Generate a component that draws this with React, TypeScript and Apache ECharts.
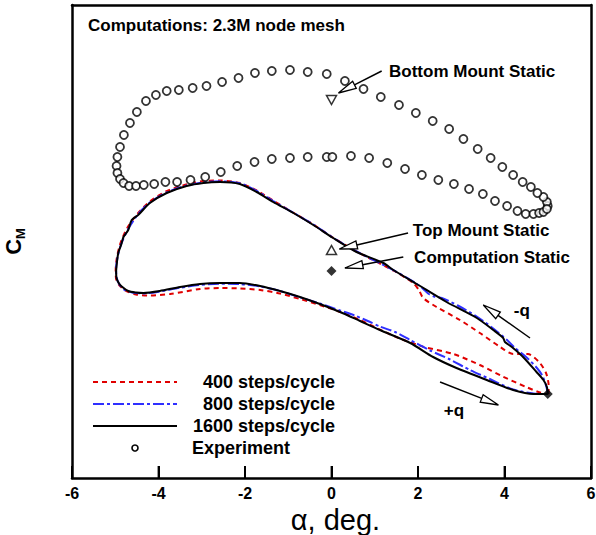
import React, { useEffect, useRef } from "react";
import * as echarts from "echarts";

// Pitching moment hysteresis loops: alpha (deg) vs C_M
const steps400: [number, number][] = [
  [5.02, -0.144], [5.02, -0.135], [4.96, -0.123], [4.8, -0.112], [4.54, -0.104], [4.2, -0.104],
  [3.9, -0.097], [3.43, -0.083], [2.97, -0.07], [2.43, -0.057], [2.12, -0.048], [2.02, -0.04],
  [1.89, -0.033], [1.43, -0.0205], [0.58, -0.0015], [0.03, 0.0125], [-0.43, 0.0257], [-0.89, 0.0375],
  [-1.35, 0.0495], [-1.73, 0.0595], [-2.12, 0.067], [-2.58, 0.0695], [-2.97, 0.069], [-3.36, 0.0655],
  [-3.83, 0.0585], [-4.2, 0.0485], [-4.47, 0.037], [-4.71, 0.023], [-4.87, 0.008], [-4.96, -0.007],
  [-4.99, -0.02], [-4.98, -0.029], [-4.91, -0.035], [-4.75, -0.041], [-4.52, -0.0445], [-4.2, -0.0455],
  [-3.73, -0.044], [-3.04, -0.039], [-2.58, -0.038], [-2.12, -0.0385], [-1.65, -0.04], [-1.19, -0.0435],
  [-0.73, -0.049], [-0.27, -0.055], [0.2, -0.062], [0.66, -0.07], [1.24, -0.082], [1.58, -0.0885],
  [2.12, -0.0967], [2.82, -0.104], [3.43, -0.115], [3.97, -0.1267], [4.5, -0.137], [4.82, -0.1425],
  [5.02, -0.144],
];

const steps800: [number, number][] = [
  [5.0, -0.144], [4.97, -0.137], [4.88, -0.126], [4.75, -0.118], [4.5, -0.107], [4.24, -0.098],
  [4.06, -0.09], [3.71, -0.0775], [3.34, -0.066], [2.92, -0.0555], [2.55, -0.048], [2.37, -0.0465],
  [2.25, -0.044], [2.16, -0.0405], [1.98, -0.034], [1.42, -0.0198], [0.58, -0.0015], [0.04, 0.0122],
  [-0.42, 0.0255], [-0.88, 0.0372], [-1.35, 0.049], [-1.73, 0.059], [-2.12, 0.0668], [-2.58, 0.0687],
  [-2.96, 0.0677], [-3.35, 0.0645], [-3.81, 0.0575], [-4.2, 0.0475], [-4.47, 0.036], [-4.7, 0.021],
  [-4.85, 0.0075], [-4.94, -0.006], [-4.98, -0.018], [-4.97, -0.027], [-4.91, -0.034], [-4.8, -0.0395],
  [-4.61, -0.0425], [-4.35, -0.0435], [-3.97, -0.0415], [-3.5, -0.0377], [-3.04, -0.035], [-2.58, -0.0337],
  [-2.12, -0.034], [-1.65, -0.0365], [-1.19, -0.041], [-0.73, -0.0473], [-0.27, -0.0535], [0.2, -0.0605],
  [0.54, -0.0655], [0.84, -0.071], [1.12, -0.0765], [1.47, -0.082], [1.82, -0.09], [2.28, -0.1005],
  [2.74, -0.1095], [3.2, -0.12], [3.66, -0.129], [4.2, -0.1395], [4.67, -0.1435], [5.0, -0.144],
];

const steps1600: [number, number][] = [
  [5.0, -0.144], [4.98, -0.137], [4.9, -0.13], [4.74, -0.122], [4.43, -0.107], [4.17, -0.097],
  [4.01, -0.092], [3.97, -0.088], [3.74, -0.08], [3.36, -0.068], [2.66, -0.052], [1.97, -0.034],
  [1.43, -0.02], [1.2, -0.013], [0.58, -0.002], [0.04, 0.012], [-0.42, 0.025], [-0.88, 0.037],
  [-1.35, 0.048], [-1.73, 0.058], [-2.12, 0.066], [-2.58, 0.068], [-2.96, 0.067], [-3.35, 0.064],
  [-3.81, 0.057], [-4.2, 0.047], [-4.47, 0.035], [-4.62, 0.03], [-4.7, 0.02], [-4.81, 0.013],
  [-4.85, 0.007], [-4.93, -0.003], [-4.96, -0.012], [-4.98, -0.022], [-4.97, -0.028], [-4.92, -0.033],
  [-4.85, -0.0365], [-4.7, -0.041], [-4.52, -0.0425], [-4.35, -0.043], [-3.97, -0.041], [-3.5, -0.037],
  [-3.04, -0.034], [-2.58, -0.033], [-2.12, -0.033], [-1.65, -0.036], [-1.19, -0.041], [-0.73, -0.047],
  [-0.27, -0.054], [0.2, -0.062], [0.66, -0.071], [1.12, -0.08], [1.82, -0.093], [2.35, -0.107],
  [2.89, -0.118], [3.59, -0.13], [4.2, -0.14], [4.67, -0.144], [5.0, -0.144],
];

const experiment: [number, number][] = [
  [5.0, 0.044], [4.98, 0.048], [4.9, 0.053], [4.76, 0.057], [4.61, 0.063], [4.42, 0.068], [4.2, 0.075],
  [3.95, 0.083], [3.68, 0.092], [3.38, 0.101], [3.05, 0.111], [2.72, 0.121], [2.34, 0.129], [1.95, 0.137],
  [1.56, 0.145], [1.14, 0.153], [0.74, 0.161], [0.31, 0.169], [-0.11, 0.176], [-0.55, 0.178],
  [-0.96, 0.18], [-1.38, 0.179], [-1.77, 0.177], [-2.15, 0.172], [-2.53, 0.168], [-2.89, 0.164],
  [-3.21, 0.162], [-3.53, 0.16], [-3.81, 0.159], [-4.06, 0.155], [-4.29, 0.149], [-4.5, 0.138],
  [-4.66, 0.127], [-4.8, 0.115], [-4.89, 0.103], [-4.95, 0.093], [-4.97, 0.084], [-4.95, 0.077],
  [-4.89, 0.071], [-4.81, 0.067], [-4.68, 0.064], [-4.52, 0.064], [-4.34, 0.065], [-4.1, 0.066],
  [-3.84, 0.068], [-3.57, 0.068], [-3.26, 0.07], [-2.92, 0.073], [-2.56, 0.078], [-2.18, 0.084],
  [-1.78, 0.088], [-1.38, 0.091], [-0.96, 0.092], [-0.55, 0.093], [-0.11, 0.093], [0.02, 0.093],
  [0.45, 0.094], [0.87, 0.092], [1.29, 0.087], [1.7, 0.081], [2.09, 0.075], [2.47, 0.07], [2.83, 0.066],
  [3.18, 0.061], [3.5, 0.056], [3.78, 0.049], [4.06, 0.044], [4.3, 0.039], [4.49, 0.036], [4.67, 0.036],
  [4.8, 0.037], [4.9, 0.038], [4.98, 0.041],
];

const bottomMountStatic: [number, number][] = [[0, 0.15]];
const topMountStatic: [number, number][] = [[0, 0.0]];
const computationStatic: [number, number][] = [[0, -0.021], [5.0, -0.144]];

// Annotation arrows: [fromAlpha, fromCm, toAlpha, toCm]
const arrows: [number, number, number, number][] = [
  [1.16, 0.179, 0.16, 0.157],
  [1.77, 0.017, 0.18, 0.001],
  [1.66, -0.007, 0.31, -0.018],
  [4.59, -0.088, 3.51, -0.055],
  [2.51, -0.132, 3.86, -0.155],
];

// Annotation texts: [alpha, cm, text, anchor]
const notes: [number, number, string, string][] = [
  [1.33, 0.179, "Bottom Mount Static", "left"],
  [1.88, 0.02, "Top Mount Static", "left"],
  [1.91, -0.007, "Computation Static", "left"],
  [4.4, -0.06, "-q", "center"],
  [2.83, -0.16, "+q", "center"],
];

const xTicks = { min: -6, max: 6, interval: 2 };
const innerTickValues = [-4, -2, 0, 2, 4];
const cmRange = { min: -0.228, max: 0.245 };

const legendRows = [
  { name: "400 steps/cycle", kind: "line", color: "#e00000", dash: [5, 4] as number[] | null },
  { name: "800 steps/cycle", kind: "line", color: "#2f2fff", dash: [11, 3, 3, 3] as number[] | null },
  { name: "1600 steps/cycle", kind: "line", color: "#000000", dash: null },
  { name: "Experiment", kind: "circle", color: "#000000", dash: null },
];

const FONT = "'Liberation Sans', Arial, Helvetica, sans-serif";
const FRAME = { color: "#000", width: 2.5 };

export default function App() {
  const ref = useRef<HTMLDivElement>(null);

  useEffect(() => {
    document.body.style.margin = "0";
    if (!ref.current) return;
    const chart = echarts.init(ref.current, undefined, { renderer: "svg" });

    const legendX0 = 93;
    const legendX1 = 177;
    const legendY0 = 382;
    const legendDy = 22;
    const legendGraphics: any[] = [];
    legendRows.forEach((row, i) => {
      const y = legendY0 + i * legendDy;
      if (row.kind === "line") {
        legendGraphics.push({
          type: "line",
          shape: { x1: legendX0, y1: y, x2: legendX1, y2: y },
          style: { stroke: row.color, lineWidth: 2, lineDash: row.dash || undefined },
        });
        legendGraphics.push({
          type: "text",
          x: 335,
          y,
          style: {
            text: row.name, fill: "#000", font: `bold 18px ${FONT}`,
            textAlign: "right", textVerticalAlign: "middle", align: "right", verticalAlign: "middle",
          },
        });
      } else {
        legendGraphics.push({
          type: "circle",
          shape: { cx: (legendX0 + legendX1) / 2, cy: y, r: 3 },
          style: { fill: "#fff", stroke: "#000", lineWidth: 1.6 },
        });
        legendGraphics.push({
          type: "text",
          x: 192,
          y,
          style: {
            text: row.name, fill: "#000", font: `bold 18px ${FONT}`,
            textAlign: "left", textVerticalAlign: "middle", align: "left", verticalAlign: "middle",
          },
        });
      }
    });

    const lineSeries = (name: string, data: [number, number][], color: string, type: any, z: number) => ({
      name,
      type: "line",
      data,
      showSymbol: false,
      symbol: "none",
      smooth: 0.25,
      z,
      lineStyle: { color, width: 2, type },
      silent: true,
    });

    const hiddenParts = {
      axisTick: { show: false },
      axisLabel: { show: false },
      splitLine: { show: false },
    };

    chart.setOption({
      animation: false,
      textStyle: { fontFamily: FONT },
      grid: {
        left: 72, right: 5, top: 5, bottom: 57,
        outerBoundsMode: "none",
        containLabel: false,
        show: false,
      },
      xAxis: [
        {
          type: "value",
          position: "bottom",
          min: xTicks.min, max: xTicks.max, interval: xTicks.interval,
          axisLine: { show: true, onZero: false, lineStyle: FRAME },
          axisTick: { show: true, inside: true, length: 12, lineStyle: { color: "#000", width: 2 } },
          splitLine: { show: false },
          axisLabel: { color: "#000", fontSize: 16, fontWeight: "bold", margin: 7, fontFamily: FONT },
          name: "α, deg.",
          nameLocation: "middle",
          nameGap: 15,
          nameTextStyle: { color: "#000", fontSize: 29, fontFamily: FONT, padding: [0, 0, 0, 8] },
          z: 20,
        },
        {
          type: "value",
          position: "top",
          min: xTicks.min, max: xTicks.max, interval: xTicks.interval,
          axisLine: { show: true, onZero: false, lineStyle: FRAME },
          ...hiddenParts,
        },
      ],
      yAxis: [
        {
          type: "value",
          position: "left",
          min: cmRange.min, max: cmRange.max,
          axisLine: { show: true, onZero: false, lineStyle: FRAME },
          ...hiddenParts,
          name: "{c|C}{m|M}",
          nameLocation: "middle",
          nameGap: 48,
          nameTextStyle: {
            rich: {
              c: { fontSize: 22, fontWeight: "bold", color: "#000", fontFamily: FONT, verticalAlign: "bottom" },
              m: { fontSize: 13, fontWeight: "bold", color: "#000", fontFamily: FONT, verticalAlign: "bottom", padding: [0, 0, -3, 0] },
            },
          },
        },
        {
          type: "value",
          position: "right",
          min: cmRange.min, max: cmRange.max,
          axisLine: { show: true, onZero: false, lineStyle: FRAME },
          ...hiddenParts,
        },
      ],
      graphic: [
        {
          type: "text",
          x: 88,
          y: 25,
          style: {
            text: "Computations: 2.3M node mesh", fill: "#000", font: `bold 17px ${FONT}`,
            textAlign: "left", textVerticalAlign: "middle", align: "left", verticalAlign: "middle",
          },
        },
        ...legendGraphics,
      ],
      series: [
        lineSeries("400 steps/cycle", steps400, "#e00000", [5, 4], 2),
        lineSeries("800 steps/cycle", steps800, "#2f2fff", [11, 3, 3, 3], 3),
        lineSeries("1600 steps/cycle", steps1600, "#000000", "solid", 4),
        {
          name: "Experiment",
          type: "scatter",
          data: experiment,
          symbol: "circle",
          symbolSize: 8,
          z: 5,
          itemStyle: { color: "#fff", borderColor: "#000", borderWidth: 1.8 },
          silent: true,
        },
        {
          name: "Bottom Mount Static",
          type: "scatter",
          data: bottomMountStatic,
          symbol: "triangle",
          symbolRotate: 180,
          symbolSize: [10, 9],
          z: 6,
          itemStyle: { color: "#fff", borderColor: "#000", borderWidth: 1.5 },
          silent: true,
        },
        {
          name: "Top Mount Static",
          type: "scatter",
          data: topMountStatic,
          symbol: "triangle",
          symbolSize: [10, 9],
          z: 6,
          itemStyle: { color: "#fff", borderColor: "#000", borderWidth: 1.5 },
          silent: true,
        },
        {
          name: "Computation Static",
          type: "scatter",
          data: computationStatic,
          symbol: "diamond",
          symbolSize: 10,
          z: 7,
          itemStyle: { color: "#000" },
          silent: true,
        },
        {
          // inward tick marks standing on the alpha axis
          name: "alphaTicks",
          type: "scatter",
          data: innerTickValues.map((v) => [v, cmRange.min]),
          symbol: "rect",
          symbolSize: [2, 12],
          symbolOffset: [0, -6],
          clip: false,
          z: 20,
          itemStyle: { color: "#000" },
          silent: true,
        },
        {
          name: "arrows",
          type: "custom",
          data: arrows,
          encode: { x: [0, 2], y: [1, 3] },
          z: 8,
          silent: true,
          renderItem: (_params: any, api: any) => {
            const p1 = api.coord([api.value(0), api.value(1)]);
            const p2 = api.coord([api.value(2), api.value(3)]);
            const dx = p2[0] - p1[0];
            const dy = p2[1] - p1[1];
            const len = Math.hypot(dx, dy) || 1;
            const ux = dx / len;
            const uy = dy / len;
            const hl = 18;
            const hw = 4;
            const bx = p2[0] - ux * hl;
            const by = p2[1] - uy * hl;
            return {
              type: "group",
              children: [
                {
                  type: "line",
                  shape: { x1: p1[0], y1: p1[1], x2: bx, y2: by },
                  style: { stroke: "#000", lineWidth: 1.5 },
                },
                {
                  type: "polygon",
                  shape: {
                    points: [
                      [p2[0], p2[1]],
                      [bx - uy * hw, by + ux * hw],
                      [bx + uy * hw, by - ux * hw],
                    ],
                  },
                  style: { fill: "#fff", stroke: "#000", lineWidth: 1.3 },
                },
              ],
            };
          },
        },
        {
          name: "notes",
          type: "custom",
          data: notes.map((n) => [n[0], n[1]]),
          encode: { x: 0, y: 1 },
          z: 9,
          silent: true,
          renderItem: (params: any, api: any) => {
            const n = notes[params.dataIndex];
            const p = api.coord([api.value(0), api.value(1)]);
            return {
              type: "text",
              x: p[0],
              y: p[1],
              style: {
                text: n[2], fill: "#000", font: `bold 17px ${FONT}`,
                textAlign: n[3], textVerticalAlign: "middle", align: n[3], verticalAlign: "middle",
              },
            };
          },
        },
      ],
    });

    return () => chart.dispose();
  }, []);

  return <div ref={ref} style={{ width: 596, height: 535 }} />;
}
